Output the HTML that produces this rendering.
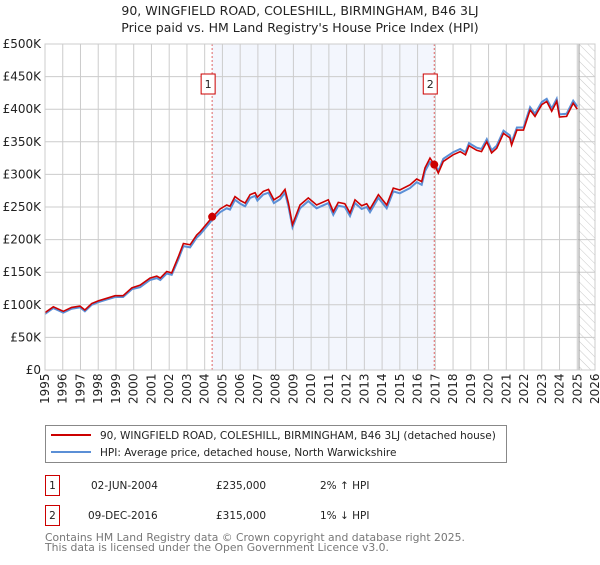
<!DOCTYPE html>
<html><head><meta charset="utf-8"><style>
body{margin:0;background:#fff;font-family:"Liberation Sans","DejaVu Sans",sans-serif;}
svg text{font-family:"DejaVu Sans","Liberation Sans",sans-serif;}
</style></head><body>
<svg id="chart" width="600" height="560" xmlns="http://www.w3.org/2000/svg">
<defs><pattern id="hatch" width="6" height="6" patternUnits="userSpaceOnUse" patternTransform="rotate(-45)"><line x1="0" y1="0" x2="0" y2="6" stroke="#bbb" stroke-width="0.8"/></pattern></defs>
<text x="300" y="15" text-anchor="middle" font-size="12.5" fill="#222">90, WINGFIELD ROAD, COLESHILL, BIRMINGHAM, B46 3LJ</text>
<text x="300" y="32" text-anchor="middle" font-size="12.5" fill="#222">Price paid vs. HM Land Registry's House Price Index (HPI)</text>
<g id="plot"></g>
<rect x="45.5" y="425.5" width="461" height="37" fill="#fff" stroke="#888"/>
<line x1="51" y1="435" x2="91" y2="435" stroke="#cc0000" stroke-width="2"/>
<text x="100" y="439" font-size="10.5" fill="#222">90, WINGFIELD ROAD, COLESHILL, BIRMINGHAM, B46 3LJ (detached house)</text>
<line x1="51" y1="452" x2="91" y2="452" stroke="#5b8fd6" stroke-width="2"/>
<text x="100" y="456" font-size="10.5" fill="#222">HPI: Average price, detached house, North Warwickshire</text>
<g font-size="10.5" fill="#222">
<rect x="45.5" y="475.5" width="14" height="20" fill="#fff" stroke="#cc0000"/>
<text x="52.5" y="489" text-anchor="middle">1</text>
<text x="91" y="489">02-JUN-2004</text><text x="216" y="489">£235,000</text><text x="320" y="489">2% ↑ HPI</text></g>
<g font-size="10.5" fill="#222">
<rect x="45.5" y="505.5" width="14" height="20" fill="#fff" stroke="#cc0000"/>
<text x="52.5" y="519" text-anchor="middle">2</text>
<text x="88" y="519">09-DEC-2016</text><text x="216" y="519">£315,000</text><text x="320" y="519">1% ↓ HPI</text></g>
<text x="45" y="541" font-size="10.8" fill="#777">Contains HM Land Registry data © Crown copyright and database right 2025.</text>
<text x="45" y="551" font-size="10.8" fill="#777">This data is licensed under the Open Government Licence v3.0.</text>
</svg>
<script>
const years=[1995,1995.47,1996.03,1996.5,1996.97,1997.25,1997.63,1998.0,1998.48,1998.95,1999.4,1999.9,2000.36,2000.92,2001.3,2001.5,2001.86,2002.14,2002.52,2002.8,2003.18,2003.55,2003.74,2004.42,2004.87,2005.24,2005.43,2005.71,2006.0,2006.28,2006.56,2006.84,2006.97,2007.3,2007.6,2007.9,2008.25,2008.53,2008.72,2008.95,2009.37,2009.84,2010.31,2010.97,2011.25,2011.53,2011.9,2012.19,2012.47,2012.85,2013.13,2013.32,2013.79,2014.26,2014.63,2015.0,2015.57,2015.95,2016.23,2016.42,2016.7,2016.94,2017.17,2017.45,2018.0,2018.4,2018.7,2018.9,2019.33,2019.6,2019.9,2020.17,2020.46,2020.84,2021.2,2021.3,2021.6,2021.97,2022.34,2022.62,2023.0,2023.28,2023.56,2023.84,2024.0,2024.4,2024.77,2025.0];
const priceValues=[88,97,90,96,98,92,102,106,110,114,114,126,130,141,144,141,151,149,174,194,192,207,212,234,247,253,251,266,260,256,269,272,265,274,277,261,267,277,256,223,253,264,253,261,243,257,255,241,261,252,255,247,269,253,279,276,284,293,289,310,325,315,302,320,330,335,330,344,337,335,350,333,340,363,356,345,368,368,399,389,407,412,397,412,388,389,409,400];
const hpiValues=[86,95,88,94,96,90,100,104,108,112,112,124,127,138,141,138,148,146,170,190,188,203,208,230,242,248,246,261,255,251,264,267,260,269,272,256,262,272,251,219,248,259,248,256,238,252,250,236,256,247,250,242,264,248,274,271,279,288,284,305,319,318,305,324,334,339,334,348,341,339,354,337,344,367,360,349,372,372,403,393,411,416,401,416,392,393,413,404];
const saleYears=[2004.42,2016.94];
const saleValues=[235,315];
const yTicks=[0,50,100,150,200,250,300,350,400,450,500];
const yTickLabels=["£0","£50K","£100K","£150K","£200K","£250K","£300K","£350K","£400K","£450K","£500K"];
const xTicks=[];for(let y=1995;y<=2026;y++)xTicks.push(y);

const X0=45,X1=595,Y0=370,Y1=44;
const xs=y=>X0+(y-1995)/(2026-1995)*(X1-X0);
const ys=v=>Y0-v/500*(Y0-Y1);
const NS="http://www.w3.org/2000/svg";
const g=document.getElementById('plot');
function mk(t,a){const e=document.createElementNS(NS,t);for(const k in a)e.setAttribute(k,a[k]);g.appendChild(e);return e;}
let e;
e=mk('rect',{x:xs(saleYears[0]),y:Y1,width:xs(saleYears[1])-xs(saleYears[0]),height:Y0-Y1,fill:'#eef2fc',opacity:0.7});


e=mk('rect',{x:xs(2025.1),y:Y1,width:X1-xs(2025.1),height:Y0-Y1,fill:'url(#hatch)'});


yTicks.forEach((v,i)=>{
 e=mk('line',{x1:X0,x2:X1,y1:ys(v),y2:ys(v),stroke:'#ccc','stroke-width':1});
 
 
 e=mk('text',{x:X0-4,y:ys(v)+4,'text-anchor':'end','font-size':12,fill:'#222'});e.textContent=yTickLabels[i];
 
 
});
xTicks.forEach(y=>{
 e=mk('line',{x1:xs(y),x2:xs(y),y1:Y1,y2:Y0,stroke:'#ccc','stroke-width':1});
 
 
 e=mk('text',{x:0,y:0,transform:`translate(${xs(y)+4},${Y0+34}) rotate(-90)`,'font-size':12,fill:'#222'});e.textContent=y;
 
 
});
e=mk('line',{x1:xs(2025.1),x2:xs(2025.1),y1:Y1,y2:Y0,stroke:'#999','stroke-width':1});


saleYears.forEach((s,i)=>{
 e=mk('line',{x1:xs(s),x2:xs(s),y1:Y1,y2:Y0,stroke:'#e06666','stroke-width':1,'stroke-dasharray':'2,2'});
 
 
 e=mk('rect',{x:xs(s)-11,y:74,width:14,height:20,fill:'#fff',stroke:'#cc0000'});
 
 
 e=mk('text',{x:xs(s)-4,y:88,'text-anchor':'middle','font-size':11,fill:'#222'});e.textContent=String(i+1);
 
 
});
const path=vals=>vals.map((v,i)=>(i?'L':'M')+xs(years[i]).toFixed(1)+','+ys(v).toFixed(1)).join('');
e=mk('path',{d:path(hpiValues),fill:'none',stroke:'#5b8fd6','stroke-width':2});


e=mk('path',{d:path(priceValues),fill:'none',stroke:'#cc0000','stroke-width':1.6});


saleYears.forEach((s,i)=>{
 e=mk('circle',{cx:xs(s),cy:ys(saleValues[i]),r:4,fill:'#cc0000'});
 
 
});
e=mk('rect',{x:X0,y:Y1,width:X1-X0,height:Y0-Y1,fill:'none',stroke:'#ccc'});


</script>
</body></html>
